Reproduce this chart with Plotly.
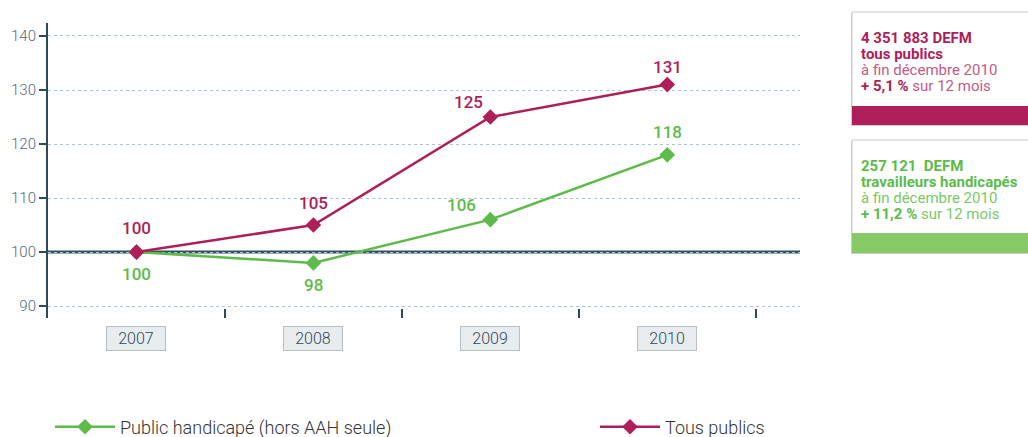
import plotly.graph_objects as go

# Data
years = ['2007', '2008', '2009', '2010']
tous_publics = [100, 105, 125, 131]
public_handicape = [100, 98, 106, 118]
y_ticks = [90, 100, 110, 120, 130, 140]

MAGENTA = '#AE1E58'
MAGENTA_LIGHT = '#C45A86'
GREEN = '#5DBB4A'
GREEN_LIGHT = '#79C967'
GREEN_BAR = '#86C966'
AXIS = '#2D4A5B'
TICK_TXT = '#4F6B7C'
GRID = '#A9C5D3'
FONT = 'Roboto'

# plot area in pixels
W, H = 1028, 437
L, R, T, B = 48, 800, 23, 318


def px(x):
    return (x - L) / (R - L)


def py(y):
    return (B - y) / (B - T)


fig = go.Figure()

fig.add_trace(go.Scatter(
    x=list(range(len(years))), y=public_handicape,
    mode='lines+markers', name='Public handicapé (hors AAH seule)',
    line=dict(color=GREEN, width=2.5),
    marker=dict(symbol='diamond', size=12, color=GREEN),
    legend='legend',
))
fig.add_trace(go.Scatter(
    x=list(range(len(years))), y=tous_publics,
    mode='lines+markers', name='Tous publics',
    line=dict(color=MAGENTA, width=2.5),
    marker=dict(symbol='diamond', size=12, color=MAGENTA),
    legend='legend2',
))

# value labels (offsets in px)
mag_off = [(0, 24), (0, 22), (-22, 15), (0, 18)]
grn_off = [(0, -22), (0, -22), (-29, 15), (0, 23)]
for i, v in enumerate(tous_publics):
    fig.add_annotation(x=i, y=v, text=str(v), showarrow=False,
                       xshift=mag_off[i][0], yshift=mag_off[i][1],
                       font=dict(family=FONT, size=17, color=MAGENTA, weight=500))
for i, v in enumerate(public_handicape):
    fig.add_annotation(x=i, y=v, text=str(v), showarrow=False,
                       xshift=grn_off[i][0], yshift=grn_off[i][1],
                       font=dict(family=FONT, size=17, color=GREEN, weight=500))

# year labels as pills
for i, yr in enumerate(years):
    fig.add_annotation(x=i, y=py(338), yref='paper', text=yr, showarrow=False,
                       font=dict(family=FONT, size=16, color=AXIS, weight=300),
                       bgcolor='#E8ECEE', bordercolor='#B5BFC4', borderwidth=1,
                       borderpad=2, width=54, yanchor='middle')

# reference line at 100
fig.add_shape(type='line', xref='paper', x0=0, x1=1, y0=100, y1=100,
              line=dict(color='#34505F', width=3), layer='between')

# side boxes
boxes = [
    (12, 125, 106, MAGENTA, MAGENTA_LIGHT, MAGENTA,
     ['<b>4 351 883 DEFM</b>', '<b>tous publics</b>', 'à fin décembre 2010',
      f'<b><span style="color:{MAGENTA}">+ 5,1 %</span></b> sur 12 mois']),
    (140, 253, 233, GREEN, GREEN_LIGHT, GREEN_BAR,
     ['<b>257 121  DEFM</b>', '<b>travailleurs handicapés</b>', 'à fin décembre 2010',
      f'<b><span style="color:{GREEN}">+ 11,2 %</span></b> sur 12 mois']),
]
for top, bot, bar, col, light, barcol, lines in boxes:
    # soft shadow
    fig.add_shape(type='rect', xref='paper', yref='paper',
                  x0=px(851), x1=px(1035), y0=py(bot + 1), y1=py(top + 1),
                  line=dict(width=0), fillcolor='#D0D0D0', layer='below')
    fig.add_shape(type='rect', xref='paper', yref='paper',
                  x0=px(852), x1=px(1035), y0=py(bot), y1=py(top),
                  line=dict(color='#C9C9C9', width=1), fillcolor='white', layer='below')
    fig.add_shape(type='rect', xref='paper', yref='paper',
                  x0=px(852), x1=px(1035), y0=py(bot), y1=py(bar),
                  line=dict(width=0), fillcolor=barcol)
    for k, line in enumerate(lines):
        fig.add_annotation(xref='paper', yref='paper', x=px(859), y=py(top + 26 + 16 * k),
                           xanchor='left', yanchor='middle', align='left', showarrow=False,
                           text=line,
                           font=dict(family=FONT, size=15, color=col if k < 2 else light))

fig.update_xaxes(
    range=[-0.5, 3.75], tickvals=[0.5, 1.5, 2.5, 3.5], showticklabels=False,
    ticks='inside', ticklen=9, tickwidth=1.5, tickcolor=AXIS,
    showgrid=False, zeroline=False, showline=False,
)
fig.update_yaxes(
    range=[87.8, 142.4], tickvals=y_ticks,
    ticks='outside', ticklen=7, tickwidth=2, tickcolor=AXIS,
    showline=True, linecolor=AXIS, linewidth=2,
    showgrid=True, gridcolor=GRID, gridwidth=1, griddash='3px,3px',
    zeroline=False, tickfont=dict(family=FONT, size=15, color=TICK_TXT, weight=300),
)

legend_font = dict(family=FONT, size=18, color='#333333', weight=300)
fig.update_layout(
    width=W, height=H,
    margin=dict(l=L, r=W - R, t=T, b=H - B, autoexpand=False),
    plot_bgcolor='white', paper_bgcolor='white',
    showlegend=True,
    legend=dict(orientation='h', x=px(50), y=py(427), yanchor='middle', xanchor='left',
                font=legend_font, bgcolor='rgba(0,0,0,0)', itemwidth=60),
    legend2=dict(orientation='h', x=px(595), y=py(427), yanchor='middle', xanchor='left',
                 font=legend_font, bgcolor='rgba(0,0,0,0)', itemwidth=60),
)

fig.write_html('out.html', config={'displayModeBar': False},
               post_script="document.body.style.margin='0';")
